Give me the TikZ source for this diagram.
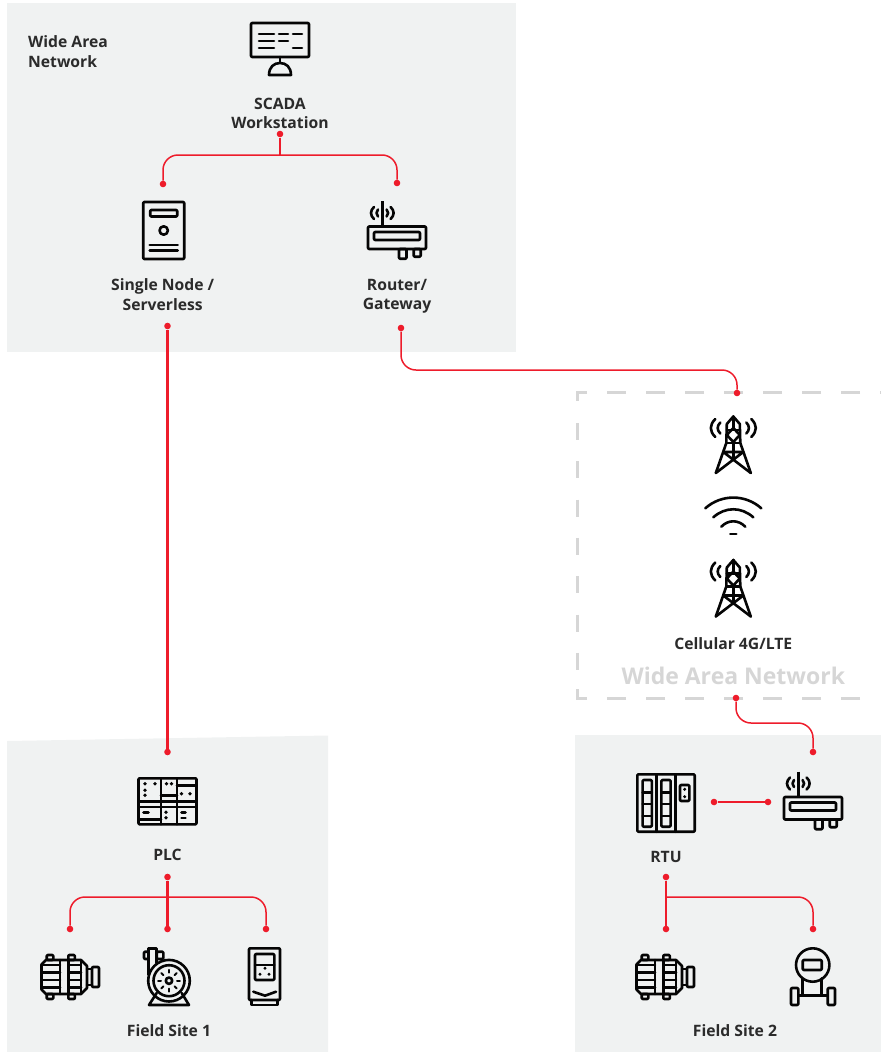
\documentclass[tikz,border=0pt]{standalone}
\usepackage{fontspec}
\setmainfont{Open Sans}
\usetikzlibrary{positioning}
\definecolor{zonegray}{HTML}{F0F2F2}
\definecolor{framegray}{HTML}{D6D6D6}
\definecolor{linkred}{HTML}{EE1C2B}
\definecolor{lblgray}{HTML}{2B2B2B}
\definecolor{iconblack}{HTML}{050505}
\tikzset{
    zone/.style={fill=zonegray},
    frame/.style={draw=framegray, line width=3pt},
    spot/.style={inner sep=0pt, minimum size=0pt},
    lbl/.style={
        inner sep=0pt, align=center, text=lblgray,
        font=\fontsize{15.7}{19.7}\selectfont\bfseries
    },
    dot/.style={circle, fill=linkred, inner sep=0pt, minimum size=6.6pt},
    link/.style={draw=linkred, line width=2.1pt},
    branch/.style={draw=linkred, line width=1.5pt, rounded corners=15pt},
    icon/.style={draw=iconblack, line width=2.6pt, line join=round, line cap=round},
    pics/monitor/.style={code={
        \draw[icon, rounded corners=1pt] (-29,-26) rectangle (29,8);
        \draw[icon] (-21,-15) -- (-6,-15) (-1,-15) -- (8,-15) (13,-15) -- (22,-15);
        \draw[icon] (-21,-8) -- (-6,-8) (-1,-8) -- (8,-8);
        \draw[icon] (-21,-1) -- (-6,-1) (13,-1) -- (22,-1);
        \draw[icon] (0,8) -- (0,14);
        \draw[icon] (-11,26) .. controls (-11,18) and (-6,14) .. (0,14)
            .. controls (6,14) and (11,18) .. (11,26) -- cycle;
    }},
    pics/server/.style={code={
        \draw[icon, rounded corners=1pt] (-20.5,-28.5) rectangle (20.5,28.5);
        \draw[icon, rounded corners=1pt] (-13.5,-20.5) rectangle (13.5,-14);
        \draw[icon] (0,0) circle (4.2pt);
        \draw[icon] (-14,14.5) -- (14,14.5) (-14,20) -- (14,20);
    }},
    pics/router/.style={code={
        \draw[icon, rounded corners=1pt] (-29,-3.5) rectangle (29,19);
        \draw[icon, rounded corners=1pt] (-23,2) rectangle (23,10);
        \draw[icon, rounded corners=1pt] (2,19) rectangle (9.5,28.7);
        \draw[icon, rounded corners=1pt] (16.7,19) rectangle (23.7,26.7);
        \draw[icon, line width=2.8pt, line cap=butt] (-14.7,-29) -- (-14.7,-3.5);
        \draw[icon] (-23,-23) .. controls (-27,-19.5) and (-27,-14.5) .. (-23,-11);
        \draw[icon] (-19,-20.5) .. controls (-21,-18.5) and (-21,-15.5) .. (-19,-13.5);
        \draw[icon] (-6.4,-23) .. controls (-2.4,-19.5) and (-2.4,-14.5) .. (-6.4,-11);
        \draw[icon] (-10.4,-20.5) .. controls (-8.4,-18.5) and (-8.4,-15.5) .. (-10.4,-13.5);
    }},
    pics/tower/.style={code={
        \draw[icon] (-17.5,28) -- (-7,-2) -- (-6.5,-21) -- (0,-28.5)
            -- (6.5,-21) -- (7,-2) -- (17.5,28);
        \draw[icon] (-10,7) -- (17.5,28) (10,7) -- (-17.5,28) (-10,7) -- (10,7);
        \draw[icon] (-6.5,-15) -- (6.5,-15) (-6.7,-2) -- (6.7,-2);
        \draw[icon] (0,-17) -- (-6.5,-10) -- (0,-3) -- (6.5,-10) -- cycle;
        \draw[icon] (0,-28.5) -- (0,-17) (0,-3) -- (0,14);
        \draw[icon] (-18,-26) .. controls (-24,-20) and (-24,-14) .. (-18,-8);
        \draw[icon] (-13,-22.5) .. controls (-16.5,-19) and (-16.5,-15) .. (-13,-11.5);
        \draw[icon] (18,-26) .. controls (24,-20) and (24,-14) .. (18,-8);
        \draw[icon] (13,-22.5) .. controls (16.5,-19) and (16.5,-15) .. (13,-11.5);
    }},
    pics/wifi/.style={code={
        \draw[icon] (-28,-11.7) .. controls (-12,-26) and (12,-26) .. (28,-11.7);
        \draw[icon] (-20,-2.7) .. controls (-8,-13.4) and (8,-13.4) .. (20,-2.7);
        \draw[icon] (-12,6.7) .. controls (-5,-0.5) and (5,-0.5) .. (12,6.7);
        \draw[icon] (-3,14) -- (3,14);
    }},
    pics/plc/.style={code={
        \draw[icon, rounded corners=1pt] (-29,-23) rectangle (29,23);
        \draw[icon] (-6.5,-23) -- (-6.5,23) (9.5,-23) -- (9.5,23);
        \draw[icon] (-29,0) -- (29,0) (-29,5.5) -- (29,5.5);
        \draw[icon] (-6.5,-6) -- (9.5,-6) (9.5,-16) -- (29,-16) (-29,18) -- (-6.5,18);
        \draw[icon] (-24,11) -- (-19,11) (14,11) -- (18,11) (14,16.5) -- (18,16.5);
        \foreach \a/\b in {-22.5/-17.5,-12.5/-17.5,-22.5/-11,-22.5/-6,-1/-17.5,4/-17.5,
                14/-7.5,22.5/-7.5,-1.5/11,-1.5/16.5}
            \fill[iconblack] (\a,\b) circle (1.9pt);
    }},
    pics/rtu/.style={code={
        \draw[icon, rounded corners=1pt] (-28.7,-28.7) rectangle (28.7,28.7);
        \draw[icon] (-9.3,-28.7) -- (-9.3,28.7) (9.3,-28.7) -- (9.3,28.7);
        \foreach \c in {-18.8,0}{
            \draw[icon, rounded corners=1pt] (\c-4.6,-23) rectangle (\c+4.6,23.7);
            \draw[icon] (\c-4.6,-10.7) -- (\c+4.6,-10.7) (\c-4.6,1) -- (\c+4.6,1)
                (\c-4.6,13) -- (\c+4.6,13);
        }
        \draw[icon, rounded corners=1pt] (14,-18) rectangle (23.3,-2);
        \fill[iconblack] (18.7,-13.7) circle (1.7pt) (18.7,-6.3) circle (1.7pt);
    }},
    pics/motor/.style={code={
        \draw[icon] (-24,-17) -- (11,-17) -- (17,-11) -- (17,11) -- (11,17) -- (-24,17)
            -- (-28.5,12.5) -- (-28.5,-12.5) -- cycle;
        \draw[icon] (-10,-17) -- (-10,17) (-1.7,-17) -- (-1.7,17) (11,-17) -- (11,17);
        \foreach \b in {-12,-4.5,3,10.5}
            \draw[icon] (-28,\b) -- (-10,\b) (-1.7,\b) -- (11,\b);
        \draw[icon] (17,-8) -- (22,-8) (17,8) -- (22,8);
        \draw[icon, rounded corners=1pt] (22,-10) rectangle (29,10);
        \foreach \a in {-23.3,-1.7}{
            \draw[icon, rounded corners=1pt] (\a,-22) rectangle (\a+6.6,-17);
            \draw[icon, rounded corners=1pt] (\a,17) rectangle (\a+6.6,22);
        }
    }},
    pics/pump/.style={code={
        \draw[icon] (-20.5,-6) -- (-20.5,-32.5) -- (-12.3,-32.5) -- (-12.3,-17.5);
        \draw[icon] (0,0) circle (20.8pt);
        \draw[icon] (0,0) circle (15.5pt);
        \draw[icon] (0,0) circle (3.2pt);
        \foreach \a in {0,45,...,315}
            \draw[icon, line width=2pt] (\a:8pt) -- (\a:10.8pt);
        \draw[icon, rounded corners=1pt] (-25,-29) rectangle (-20.5,-21.7);
        \draw[icon, rounded corners=1pt] (-12.3,-29) rectangle (-5.7,-21.7);
        \draw[icon] (-12.3,12.3) -- (-20,24.3) -- (20,24.3) -- (12.7,12.3);
    }},
    pics/drive/.style={code={
        \draw[icon, rounded corners=1pt] (-15.5,-28.7) rectangle (15.5,23);
        \draw[icon] (-12.8,23) -- (-12.8,28) -- (12.8,28) -- (12.8,23);
        \draw[icon, rounded corners=1pt] (-9.5,-23) rectangle (9.8,3);
        \draw[icon] (-9.5,-12) -- (9.8,-12);
        \fill[iconblack] (0.5,-8.7) circle (1.6pt) (-4.5,-2.7) circle (1.6pt) (4.5,-2.7) circle (1.6pt);
        \draw[icon] (-11.2,14.7) -- (0.5,18.7) -- (11.5,14.7);
    }},
    pics/meter/.style={code={
        \draw[icon] (0,-20) circle (16.7pt);
        \draw[icon, rounded corners=1pt] (-10,-25) rectangle (9,-15);
        \draw[icon] (-10,-6.5) -- (-10,10) (9,-6.5) -- (9,10);
        \draw[icon, line width=3.6pt, line cap=butt] (-14.4,10.5) -- (15,10.5);
        \draw[icon, rounded corners=1pt] (-21.7,3) rectangle (-14.4,20);
        \draw[icon, rounded corners=1pt] (15,3) rectangle (22.3,20);
    }}
}

\begin{document}
\begin{tikzpicture}[x=1pt, y=-1pt]
\useasboundingbox (0,0) rectangle (881,1052);

% Zones
\fill[zone] (7,3) rectangle (516,352);
\fill[zone] (7,741) -- (328,735.5) -- (328,1052) -- (7,1052) -- cycle;
\fill[zone] (575,735) rectangle (881,1052);

% Dashed frame of the cellular part
\draw[frame, dash pattern=on 19pt off 20pt, dash phase=18pt] (881,392) -- (577,392) -- (577,402);
\draw[frame, dash pattern=on 17pt off 21.3pt] (577,423) -- (577,672);
\draw[frame, dash pattern=on 19pt off 20pt] (860,698) -- (577,698) -- (577,688);

% Icons
\node[spot] (scada) at (280,49) {};
\pic at (scada) {monitor};
\node[spot] (single) at (163.7,230.5) {};
\pic at (single) {server};
\node[spot] (router) at (397,230) {};
\pic at (router) {router};
\node[spot] (towerup) at (733.3,445) {};
\pic at (towerup) {tower};
\node[spot] (wifi) at (733.3,520) {};
\pic at (wifi) {wifi};
\node[spot] (towerlow) at (733.3,588.5) {};
\pic at (towerlow) {tower};
\node[spot] (plc) at (167.5,801.3) {};
\pic at (plc) {plc};
\node[spot] (motorone) at (70,977) {};
\pic at (motorone) {motor};
\node[spot] (pump) at (169,980.7) {};
\pic at (pump) {pump};
\node[spot] (drive) at (264.5,977) {};
\pic at (drive) {drive};
\node[spot] (rtu) at (666,803) {};
\pic at (rtu) {rtu};
\node[spot] (modem) at (813,800.5) {};
\pic at (modem) {router};
\node[spot] (motortwo) at (665,977) {};
\pic at (motortwo) {motor};
\node[spot] (meter) at (812.7,985) {};
\pic at (meter) {meter};

% Labels
\node[lbl, align=left, anchor=north west] (wantxt) at (28,35.5) {Wide Area\\Network};
\node[lbl, below=48.5pt of scada] (scadatxt) {SCADA\\Workstation};
\node[lbl, below=47.5pt of single, xshift=-1pt] (singletxt) {Single Node /\\Serverless};
\node[lbl, below=48.5pt of router] (routertxt) {Router/\\Gateway};
\node[lbl, below=48.5pt of towerlow] (celltxt) {Cellular 4G/LTE};
\node[lbl, below=17pt of celltxt, text=framegray, font=\fontsize{23}{28}\selectfont\bfseries] (widetxt) {Wide Area Network};
\node[lbl, below=47.5pt of plc] (plctxt) {PLC};
\node[lbl, below=48pt of rtu] (rtutxt) {RTU};
\node[lbl] (sitetxtone) at (169,1031) {Field Site 1};
\node[lbl] (sitetxttwo) at (735,1031) {Field Site 2};

% Link ends
\node[dot] (scadaout) at (280,134) {};
\node[dot] (singlein) at (163,184) {};
\node[dot] (routerin) at (397,183) {};
\node[dot] (singleout) at (167.5,326) {};
\node[dot] (routerout) at (401,328) {};
\node[dot] (cellin) at (737,393) {};
\node[dot] (cellout) at (736,698) {};
\node[dot] (plcin) at (167.5,752) {};
\node[dot] (plcout) at (167.5,877) {};
\node[dot] (motoronein) at (70,929) {};
\node[dot] (pumpin) at (167.5,929) {};
\node[dot] (drivein) at (266,929) {};
\node[dot] (modemin) at (813,752) {};
\node[dot] (modemout) at (768,802) {};
\node[dot] (rturight) at (714,802) {};
\node[dot] (rtuout) at (666,877) {};
\node[dot] (motortwoin) at (666,929) {};
\node[dot] (meterin) at (813,929) {};

% Bends of the links
\coordinate (scadabus) at (280,155);
\coordinate (routerbus) at (569,370);
\coordinate (cellbus) at (775,723);
\coordinate (plcbus) at (167.5,897);
\coordinate (rtubus) at (666,897);

% Links
\draw[link] (scadaout) -- (scadabus);
\draw[branch] (singlein) |- (scadabus) -| (routerin);
\draw[link] (singleout) -- (plcin);
\draw[branch] (routerout) |- (routerbus) -| (cellin);
\draw[branch] (cellout) |- (cellbus) -| (modemin);
\draw[link] (rturight) -- (modemout);
\draw[link] (plcout) -- (pumpin);
\draw[branch] (motoronein) |- (plcbus) -| (drivein);
\draw[link] (rtuout) -- (motortwoin);
\draw[branch] (rtubus) -| (meterin);

\end{tikzpicture}
\end{document}
